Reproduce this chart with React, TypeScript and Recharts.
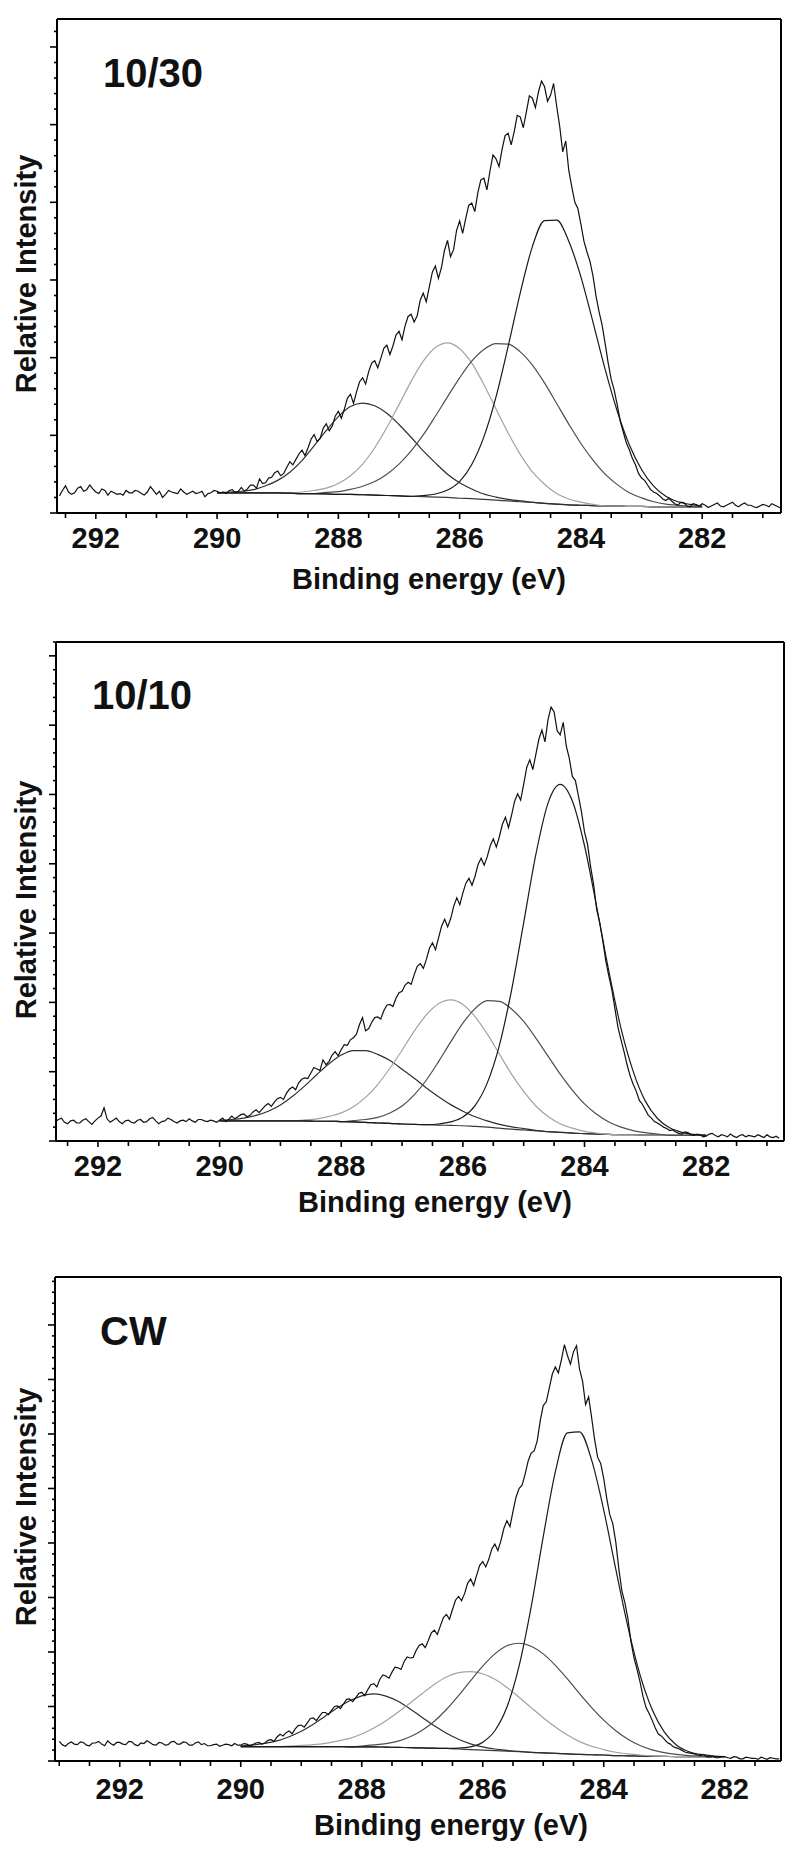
import React from 'react';
import { LineChart, Line, XAxis, YAxis } from 'recharts';

const FONT = '"Liberation Sans", Arial, Helvetica, sans-serif';

// ---------- tick labels ----------
const X_LABELS = [292, 290, 288, 286, 284, 282];
const X_TICKS_A = [292.5, 292, 291.5, 291, 290.5, 290, 289.5, 289, 288.5, 288, 287.5, 287, 286.5, 286, 285.5, 285, 284.5, 284, 283.5, 283, 282.5, 282, 281.5, 281];
const X_TICKS_C = [293, 292.5, 292, 291.5, 291, 290.5, 290, 289.5, 289, 288.5, 288, 287.5, 287, 286.5, 286, 285.5, 285, 284.5, 284, 283.5, 283, 282.5, 282, 281.5];

// ---------- measured spectra (0.05 eV steps, one row = 1 eV) ----------
const RAW_STEP = 0.05;
const P1_RAW_START = 292.6;
const P1_RAW = [
  2.2, 2.9, 3.5, 2.7, 2.4, 2.6, 3.2, 3.4, 2.8, 3.0, 3.6, 3.1, 2.7, 2.5, 3.1, 2.9, 2.3, 2.8, 2.6, 2.4,
  2.5, 2.3, 2.9, 2.6, 2.6, 2.9, 2.8, 2.5, 2.3, 2.7, 3.4, 2.9, 2.4, 2.8, 2.0, 2.4, 2.9, 2.7, 2.6, 2.5,
  3.1, 2.7, 2.4, 2.6, 2.8, 2.5, 2.6, 2.8, 2.1, 2.5, 2.6, 2.9, 2.8, 2.6, 2.7, 2.5, 2.9, 3.0, 2.6, 2.8,
  3.3, 2.8, 3.1, 3.6, 3.6, 3.2, 4.4, 3.8, 3.9, 4.5, 4.6, 5.2, 5.4, 4.8, 5.1, 5.9, 6.6, 6.2, 6.9, 7.6,
  8.1, 7.4, 8.4, 9.5, 10.1, 9.2, 9.6, 10.9, 11.5, 10.6, 11.2, 12.5, 13.1, 12.2, 13.4, 14.8, 15.3, 14.1, 15.6, 16.9,
  17.4, 16.6, 18.2, 19.3, 19.6, 18.7, 19.9, 21.2, 21.6, 20.4, 21.5, 22.9, 23.4, 22.3, 24.1, 25.3, 25.6, 24.6, 25.4, 27.4,
  28.3, 27.2, 29.1, 31.0, 31.8, 30.2, 31.6, 33.8, 35.1, 33.0, 33.9, 36.4, 37.6, 36.0, 37.9, 39.6, 39.9, 38.8, 41.2, 42.9,
  43.1, 41.6, 44.0, 46.1, 45.6, 44.6, 46.8, 48.6, 48.9, 47.4, 49.1, 51.2, 51.0, 49.6, 51.6, 53.7, 53.4, 52.2, 54.2, 55.6,
  54.9, 53.0, 53.8, 55.3, 52.4, 49.8, 46.5, 47.9, 44.1, 42.0, 40.0, 39.2, 37.2, 35.0, 33.6, 32.4, 30.5, 27.9, 25.9, 24.2,
  21.8, 19.3, 17.2, 15.8, 13.9, 11.8, 10.4, 9.0, 8.1, 7.0, 6.2, 5.1, 4.5, 4.2, 3.6, 3.0, 2.7, 2.5, 2.2, 1.8,
  1.6, 1.9, 1.5, 1.2, 1.0, 1.4, 1.3, 0.9, 0.8, 1.2, 1.1, 0.9, 1.2, 1.0, 0.7, 0.9, 1.1, 1.3, 0.9, 0.8,
  1.0, 1.2, 1.4, 1.0, 0.8, 1.1, 1.3, 1.0, 1.0, 0.8, 0.7, 0.9, 1.1, 1.0, 0.8, 1.2, 1.0, 0.8, 0.6,
];
const P2_RAW_START = 292.7;
const P2_RAW = [
  2.8, 3.1, 3.3, 2.7, 2.5, 2.9, 3.0, 2.6, 2.6, 3.0, 3.2, 2.8, 2.4, 2.9, 3.3, 3.6, 4.8, 3.2, 2.7, 3.0,
  3.3, 2.8, 2.5, 2.9, 3.0, 2.7, 2.6, 3.0, 3.1, 2.7, 2.8, 3.2, 3.4, 2.9, 2.5, 2.8, 2.9, 3.3, 3.1, 2.8,
  2.6, 2.9, 3.0, 2.8, 3.2, 2.9, 2.7, 3.1, 3.1, 2.9, 2.8, 3.0, 2.9, 2.7, 3.0, 3.3, 2.8, 3.1, 3.6, 3.2,
  3.5, 3.8, 3.9, 3.5, 3.7, 4.2, 4.5, 4.1, 4.6, 5.1, 5.4, 5.0, 5.6, 6.1, 6.3, 6.0, 6.9, 7.5, 7.8, 7.4,
  8.4, 8.9, 9.1, 9.0, 9.8, 10.6, 10.4, 10.2, 11.7, 11.0, 11.5, 12.4, 12.9, 12.3, 13.2, 13.9, 13.8, 14.6, 14.9, 15.4,
  16.8, 17.8, 15.9, 16.2, 17.1, 17.8, 17.9, 17.6, 18.8, 19.6, 19.7, 19.4, 20.6, 21.4, 21.6, 22.5, 22.9, 22.6, 24.0, 25.2,
  25.6, 24.9, 26.2, 27.8, 28.6, 27.6, 29.3, 31.0, 32.0, 30.9, 32.1, 33.9, 35.1, 34.1, 35.8, 37.2, 37.9, 36.9, 38.2, 39.9,
  40.8, 39.8, 41.0, 42.6, 43.6, 42.4, 43.9, 45.7, 46.7, 45.2, 47.0, 49.0, 50.1, 49.2, 51.5, 53.9, 55.0, 53.6, 55.8, 58.0,
  59.3, 57.6, 60.8, 62.6, 61.9, 59.2, 58.6, 60.4, 57.0, 55.2, 52.6, 52.0, 49.8, 47.5, 44.6, 42.8, 39.6, 37.0, 33.4, 31.5,
  28.9, 26.0, 23.8, 21.8, 19.1, 16.4, 14.6, 12.9, 11.0, 9.4, 8.2, 7.2, 5.9, 5.3, 4.5, 3.7, 3.3, 2.8, 2.6, 2.3,
  2.0, 1.8, 1.5, 1.6, 1.3, 1.1, 1.0, 1.3, 1.2, 0.9, 0.8, 1.0, 0.9, 0.6, 0.7, 1.0, 1.1, 0.8, 0.6, 0.9,
  0.8, 0.6, 1.0, 0.7, 0.5, 0.8, 0.9, 0.6, 0.8, 0.7, 0.6, 0.9, 0.7, 0.5, 0.9, 0.6, 0.5, 0.7, 0.4,
];
const P3_RAW_START = 293.0;
const P3_RAW = [
  3.6, 3.0, 2.7, 3.2, 3.5, 3.1, 3.0, 3.5, 3.4, 2.9, 2.8, 3.3, 3.3, 3.6, 3.1, 2.8, 3.7, 3.2, 2.9, 3.4,
  3.4, 3.1, 3.0, 3.6, 3.5, 3.0, 2.8, 3.3, 3.2, 3.7, 3.4, 3.0, 2.9, 3.4, 3.3, 2.9, 3.0, 3.5, 3.6, 3.1,
  3.1, 3.5, 3.4, 2.9, 2.9, 3.3, 3.5, 3.0, 3.2, 2.8, 2.8, 3.0, 3.1, 2.7, 2.9, 3.1, 3.0, 2.8, 3.2, 2.9,
  2.9, 3.2, 3.1, 2.8, 3.0, 3.3, 3.4, 3.1, 3.3, 3.8, 3.9, 3.6, 4.4, 4.9, 4.6, 5.2, 5.5, 5.0, 5.9, 6.5,
  6.6, 6.2, 7.0, 7.8, 7.9, 7.4, 8.2, 8.9, 8.9, 8.5, 9.3, 10.0, 10.1, 9.6, 10.5, 11.3, 11.4, 10.9, 11.6, 12.4,
  12.6, 12.0, 13.1, 14.0, 14.2, 13.6, 15.0, 15.8, 15.6, 15.2, 16.3, 17.2, 17.1, 16.8, 18.2, 19.1, 18.9, 19.0, 20.3, 21.2,
  21.5, 20.8, 22.1, 23.5, 24.0, 23.2, 24.8, 26.3, 26.9, 26.0, 27.8, 29.5, 30.2, 29.4, 30.7, 32.6, 33.4, 32.2, 34.1, 35.9,
  36.6, 35.6, 37.0, 38.9, 39.8, 38.6, 40.4, 42.7, 44.1, 43.0, 45.8, 48.4, 50.0, 50.6, 52.6, 55.0, 56.5, 56.9, 58.7, 62.4,
  65.2, 65.9, 68.4, 71.0, 72.3, 71.2, 73.6, 76.4, 74.4, 72.8, 75.1, 76.2, 71.9, 69.7, 65.4, 66.8, 63.0, 58.9, 55.7, 54.6,
  51.8, 48.2, 45.2, 43.5, 40.1, 35.2, 31.2, 29.0, 26.1, 21.9, 18.9, 16.8, 14.5, 11.8, 9.8, 8.7, 7.5, 6.1, 5.0, 4.6,
  4.0, 3.4, 3.1, 2.6, 2.4, 2.2, 1.9, 1.6, 1.5, 1.4, 1.3, 1.1, 1.0, 1.2, 0.8, 0.7, 0.9, 0.6, 0.6, 0.8,
  0.8, 0.6, 0.5, 0.8, 0.7, 0.4, 0.4, 0.7, 0.6, 0.5, 0.5, 0.3, 0.7, 0.5, 0.3, 0.6, 0.5, 0.4, 0.4,
];

// ---------- fitted components (0.2 eV grid) ----------
const COMP_E = [290.0, 289.8, 289.6, 289.4, 289.2, 289.0, 288.8, 288.6, 288.4, 288.2, 288.0, 287.8, 287.6, 287.4, 287.2, 287.0, 286.8, 286.6, 286.4, 286.2, 286.0, 285.8, 285.6, 285.4, 285.2, 285.0, 284.8, 284.6, 284.4, 284.2, 284.0, 283.8, 283.6, 283.4, 283.2, 283.0, 282.8, 282.6, 282.4, 282.2, 282.0];

const P1_BG = [2.6, 2.6, 2.6, 2.6, 2.6, 2.6, 2.55, 2.5, 2.5, 2.45, 2.4, 2.4, 2.35, 2.3, 2.25, 2.2, 2.15, 2.1, 2.05, 2.0, 1.9, 1.85, 1.75, 1.65, 1.55, 1.45, 1.35, 1.25, 1.15, 1.05, 1.0, 0.95, 0.9, 0.9, 0.85, 0.85, 0.8, 0.8, 0.8, 0.8, 0.8];
const P1_C1 = [2.6, 2.7, 2.8, 3.0, 3.5, 4.2, 5.25, 6.75, 8.65, 10.6, 12.4, 13.7, 14.15, 13.8, 12.85, 11.4, 9.75, 8.0, 6.45, 5.0, 3.9, 3.1, 2.45, 2.05, 1.75, 1.55, 1.4, 1.25, 1.15, 1.05, 1.0, 0.95, 0.9, 0.9, 0.85, 0.85, 0.8, 0.8, 0.8, 0.8, 0.8];
const P1_C2 = [2.6, 2.6, 2.6, 2.6, 2.6, 2.6, 2.55, 2.7, 2.9, 3.2, 3.8, 4.8, 6.3, 8.4, 11.0, 13.95, 16.95, 19.55, 21.3, 21.9, 21.15, 19.3, 16.55, 13.4, 10.3, 7.55, 5.3, 3.7, 2.5, 1.8, 1.4, 1.1, 0.9, 0.9, 0.85, 0.85, 0.8, 0.8, 0.8, 0.8, 0.8];
const P1_C3 = [2.6, 2.6, 2.6, 2.6, 2.6, 2.6, 2.55, 2.5, 2.5, 2.65, 2.75, 3.05, 3.45, 4.05, 5.0, 6.3, 8.0, 10.05, 12.45, 14.95, 17.4, 19.55, 21.05, 21.8, 21.75, 20.75, 19.05, 16.75, 14.1, 11.45, 8.95, 6.8, 5.0, 3.65, 2.6, 1.95, 1.45, 1.15, 1.0, 0.85, 0.8];
const P1_C4 = [2.6, 2.6, 2.6, 2.6, 2.6, 2.6, 2.55, 2.5, 2.5, 2.45, 2.4, 2.4, 2.35, 2.3, 2.25, 2.2, 2.15, 2.25, 2.45, 2.95, 4.05, 6.25, 9.8, 14.95, 21.45, 28.35, 34.3, 37.65, 37.7, 35.0, 30.4, 24.55, 18.5, 13.1, 8.75, 5.6, 3.45, 2.15, 1.45, 1.1, 0.9];

const P2_BG = [2.9, 2.9, 2.9, 2.9, 2.9, 2.9, 2.9, 2.9, 2.85, 2.85, 2.8, 2.75, 2.7, 2.6, 2.55, 2.45, 2.4, 2.35, 2.3, 2.25, 2.2, 2.1, 2.0, 1.85, 1.7, 1.6, 1.45, 1.35, 1.25, 1.15, 1.05, 1.0, 0.95, 0.9, 0.9, 0.85, 0.85, 0.8, 0.8, 0.8, 0.8];
const P2_C1 = [3.0, 3.1, 3.3, 3.7, 4.3, 5.2, 6.45, 7.95, 9.6, 11.15, 12.4, 13.05, 13.05, 12.5, 11.6, 10.35, 9.05, 7.65, 6.4, 5.25, 4.3, 3.5, 2.9, 2.4, 2.05, 1.8, 1.55, 1.35, 1.25, 1.15, 1.05, 1.0, 0.95, 0.9, 0.9, 0.85, 0.85, 0.8, 0.8, 0.8, 0.8];
const P2_C2 = [2.9, 2.9, 2.9, 2.9, 2.9, 2.9, 2.9, 3.05, 3.2, 3.55, 4.05, 4.95, 6.3, 8.15, 10.5, 13.1, 15.85, 18.2, 19.8, 20.35, 19.7, 17.95, 15.45, 12.55, 9.65, 7.15, 5.05, 3.55, 2.5, 1.85, 1.4, 1.15, 0.95, 0.9, 0.9, 0.85, 0.85, 0.8, 0.8, 0.8, 0.8];
const P2_C3 = [2.9, 2.9, 2.9, 2.9, 2.9, 2.9, 2.9, 2.9, 2.85, 2.85, 2.8, 2.95, 3.1, 3.4, 4.05, 5.05, 6.65, 8.8, 11.45, 14.3, 17.0, 19.1, 20.25, 20.15, 19.05, 17.25, 14.85, 12.25, 9.65, 7.35, 5.35, 3.85, 2.75, 2.0, 1.5, 1.2, 1.0, 0.8, 0.8, 0.8, 0.8];
const P2_C4 = [2.9, 2.9, 2.9, 2.9, 2.9, 2.9, 2.9, 2.9, 2.85, 2.85, 2.8, 2.75, 2.7, 2.6, 2.55, 2.45, 2.4, 2.35, 2.45, 2.75, 3.45, 5.1, 8.35, 13.8, 21.75, 31.5, 41.35, 48.75, 51.45, 49.05, 42.6, 33.8, 24.5, 16.25, 10.05, 5.75, 3.25, 1.9, 1.25, 0.95, 0.8];

const P3_BG = [2.65, 2.65, 2.65, 2.65, 2.65, 2.65, 2.65, 2.65, 2.65, 2.6, 2.6, 2.6, 2.55, 2.5, 2.45, 2.4, 2.35, 2.3, 2.2, 2.1, 2.0, 1.9, 1.8, 1.7, 1.6, 1.5, 1.4, 1.3, 1.2, 1.15, 1.1, 1.0, 0.95, 0.9, 0.85, 0.85, 0.8, 0.8, 0.8, 0.8, 0.8];
const P3_C1 = [2.8, 2.95, 3.25, 3.7, 4.45, 5.45, 6.75, 8.25, 9.75, 11.05, 11.95, 12.3, 11.9, 10.95, 9.55, 8.0, 6.45, 5.1, 4.0, 3.15, 2.6, 2.2, 1.95, 1.75, 1.6, 1.5, 1.4, 1.3, 1.2, 1.15, 1.1, 1.0, 0.95, 0.9, 0.85, 0.85, 0.8, 0.8, 0.8, 0.8, 0.8];
const P3_C2 = [2.65, 2.65, 2.65, 2.65, 2.75, 2.85, 3.0, 3.25, 3.65, 4.15, 4.95, 6.05, 7.4, 8.95, 10.65, 12.4, 14.05, 15.4, 16.2, 16.4, 16.0, 15.0, 13.5, 11.7, 9.8, 7.95, 6.25, 4.75, 3.55, 2.7, 2.1, 1.6, 1.3, 1.1, 0.95, 0.85, 0.8, 0.8, 0.8, 0.8, 0.8];
const P3_C3 = [2.65, 2.65, 2.65, 2.65, 2.65, 2.65, 2.65, 2.65, 2.65, 2.6, 2.75, 2.95, 3.2, 3.65, 4.45, 5.65, 7.3, 9.45, 12.0, 14.75, 17.4, 19.65, 21.15, 21.6, 21.05, 19.65, 17.55, 15.05, 12.35, 9.8, 7.5, 5.55, 4.0, 2.85, 2.05, 1.55, 1.2, 1.0, 0.9, 0.8, 0.8];
const P3_C4 = [2.65, 2.65, 2.65, 2.65, 2.65, 2.65, 2.65, 2.65, 2.65, 2.6, 2.6, 2.6, 2.55, 2.5, 2.45, 2.4, 2.35, 2.3, 2.35, 2.6, 3.45, 5.55, 9.9, 17.4, 28.25, 41.15, 53.05, 60.2, 60.4, 55.2, 46.05, 35.15, 24.6, 15.8, 9.45, 5.35, 2.95, 1.75, 1.2, 0.95, 0.8];

// ---------- helpers ----------
const rawPoints = (start: number, vals: number[]) =>
  vals.map((v, i) => ({ e: Math.round((start - i * RAW_STEP) * 1000) / 1000, v }));
const compPoints = (vals: number[]) => COMP_E.map((e, i) => ({ e, v: vals[i] }));
const yTickList = (max: number) => {
  const out: number[] = [];
  for (let t = 0; t <= max; t += 2) out.push(t);
  return out;
};

type Box = { top: number; right: number; bottom: number; left: number };
type PanelDef = {
  top: number;
  height: number;
  box: Box;
  xDomain: [number, number];
  yMax: number;
  xTicks: number[];
  labelDy: number;
  raw: { e: number; v: number }[];
  bg: number[];
  comps: number[][];
};

const PANELS: PanelDef[] = [
  {
    top: 0, height: 620,
    box: { top: 19, right: 19, bottom: 107, left: 57 },
    xDomain: [280.7, 292.64], yMax: 63.6, xTicks: X_TICKS_A, labelDy: 35,
    raw: rawPoints(P1_RAW_START, P1_RAW), bg: P1_BG, comps: [P1_C1, P1_C2, P1_C3, P1_C4],
  },
  {
    top: 620, height: 620,
    box: { top: 22, right: 16, bottom: 99, left: 56 },
    xDomain: [280.72, 292.69], yMax: 72.0, xTicks: X_TICKS_A, labelDy: 35,
    raw: rawPoints(P2_RAW_START, P2_RAW), bg: P2_BG, comps: [P2_C1, P2_C2, P2_C3, P2_C4],
  },
  {
    top: 1240, height: 611,
    box: { top: 37, right: 19, bottom: 90, left: 55 },
    xDomain: [281.07, 293.07], yMax: 88.8, xTicks: X_TICKS_C, labelDy: 38,
    raw: rawPoints(P3_RAW_START, P3_RAW), bg: P3_BG, comps: [P3_C1, P3_C2, P3_C3, P3_C4],
  },
];

const COMP_STYLE = [
  { stroke: '#2e2e2e', w: 1.2 },
  { stroke: '#a2a2a2', w: 1.2 },
  { stroke: '#4e4e4e', w: 1.2 },
  { stroke: '#1a1a1a', w: 1.2 },
];

const makeXTick = (labelDy: number) => (props: any) => {
  const { x, y, payload } = props;
  const v = payload.value as number;
  const labeled = X_LABELS.includes(v);
  return (
    <g>
      <line x1={x} x2={x} y1={y} y2={y + (labeled ? 6 : 5)} stroke="#000" strokeWidth={1.6} />
      {labeled && (
        <text x={x} y={y + labelDy} textAnchor="middle" fontFamily={FONT} fontWeight="bold" fontSize={29} fill="#111">
          {v}
        </text>
      )}
    </g>
  );
};

const renderYTick = (props: any) => {
  const { x, y, payload } = props;
  const v = payload.value as number;
  const major = Math.abs(v % 10) < 1e-6;
  const len = major ? 7 : 3;
  return <line x1={x - len} x2={x} y1={y} y2={y} stroke="#000" strokeWidth={1.6} />;
};

const BOTTOM_AXIS_H = 40;
const LEFT_AXIS_W = 12;

function Panel({ p }: { p: PanelDef }) {
  const yTicks = yTickList(p.yMax);
  const margin = {
    top: p.box.top - 1,
    right: p.box.right - 1,
    bottom: p.box.bottom - BOTTOM_AXIS_H,
    left: p.box.left - LEFT_AXIS_W,
  };
  return (
    <div style={{ position: 'absolute', left: 0, top: p.top, width: 800, height: p.height }}>
      <LineChart width={800} height={p.height} margin={margin} style={{ overflow: 'visible' }}>
        <XAxis xAxisId="b" type="number" dataKey="e" domain={p.xDomain} reversed allowDataOverflow
          ticks={p.xTicks} interval={0} tickSize={0} tickMargin={0} tickLine={false} height={BOTTOM_AXIS_H}
          axisLine={{ stroke: '#000', strokeWidth: 2 }} tick={makeXTick(p.labelDy)} />
        <XAxis xAxisId="t" orientation="top" type="number" dataKey="e" domain={p.xDomain} reversed allowDataOverflow
          tick={false} tickLine={false} height={1} axisLine={{ stroke: '#000', strokeWidth: 2 }} />
        <YAxis yAxisId="l" type="number" domain={[0, p.yMax]} allowDataOverflow ticks={yTicks} interval={0}
          tickSize={0} tickMargin={0} tickLine={false} width={LEFT_AXIS_W}
          axisLine={{ stroke: '#000', strokeWidth: 2 }} tick={renderYTick} />
        <YAxis yAxisId="r" orientation="right" type="number" domain={[0, p.yMax]} allowDataOverflow
          tick={false} tickLine={false} width={1} axisLine={{ stroke: '#000', strokeWidth: 2 }} />
        <Line xAxisId="b" yAxisId="l" data={compPoints(p.bg)} dataKey="v" type="monotone" dot={false}
          stroke="#3a3a3a" strokeWidth={1.2} isAnimationActive={false} />
        {p.comps.map((c, i) => (
          <Line key={i} xAxisId="b" yAxisId="l" data={compPoints(c)} dataKey="v" type="monotone" dot={false}
            stroke={COMP_STYLE[i].stroke} strokeWidth={COMP_STYLE[i].w} isAnimationActive={false} />
        ))}
        <Line xAxisId="b" yAxisId="l" data={p.raw} dataKey="v" type="linear" dot={false}
          stroke="#111" strokeWidth={1.2} isAnimationActive={false} />
      </LineChart>
    </div>
  );
}

const TAGS = [
  { text: '10/30', x: 103, y: 87 },
  { text: '10/10', x: 92, y: 709 },
  { text: 'CW', x: 100, y: 1345 },
];
const X_TITLES = [
  { x: 429, y: 589 },
  { x: 435, y: 1212 },
  { x: 451, y: 1835 },
];
const Y_TITLES = [
  { x: 36, y: 274 },
  { x: 36, y: 900 },
  { x: 36, y: 1507 },
];

export default function App() {
  return (
    <div style={{ position: 'absolute', left: 0, top: 0, width: 800, height: 1851, background: '#fff', overflow: 'hidden' }}>
      {PANELS.map((p, i) => <Panel key={i} p={p} />)}
      <svg width={800} height={1851} style={{ position: 'absolute', left: 0, top: 0, pointerEvents: 'none' }}>
        {TAGS.map((t, i) => (
          <text key={'t' + i} x={t.x} y={t.y} fontFamily={FONT} fontWeight="bold" fontSize={40} fill="#111">{t.text}</text>
        ))}
        {X_TITLES.map((t, i) => (
          <text key={'x' + i} x={t.x} y={t.y} textAnchor="middle" fontFamily={FONT} fontWeight="bold" fontSize={29} fill="#111">
            Binding energy (eV)
          </text>
        ))}
        {Y_TITLES.map((t, i) => (
          <text key={'y' + i} x={t.x} y={t.y} textAnchor="middle" transform={`rotate(-90 ${t.x} ${t.y})`}
            fontFamily={FONT} fontWeight="bold" fontSize={29} fill="#111">
            Relative Intensity
          </text>
        ))}
      </svg>
    </div>
  );
}
